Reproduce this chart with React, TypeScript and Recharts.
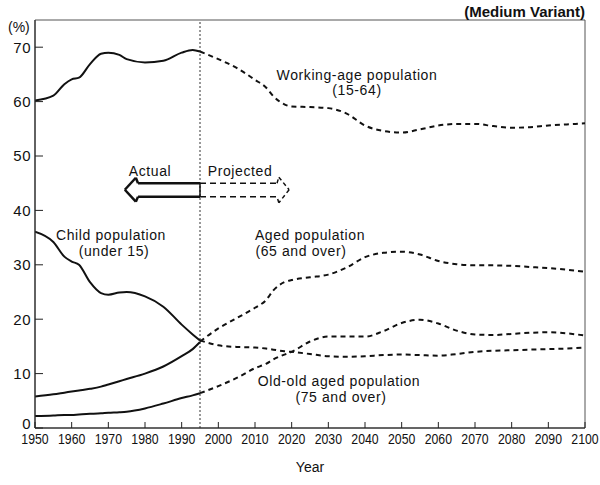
import React from "react";
import { LineChart, Line, XAxis, YAxis, ReferenceLine, ReferenceArea } from "recharts";

const actualYears = [1950, 1955, 1958, 1960, 1962, 1965, 1968, 1970, 1973, 1975, 1980, 1985, 1990, 1993, 1995];
const workingActual = [60.2, 61.1, 63.2, 64.1, 64.4, 66.9, 68.8, 69.0, 68.6, 67.8, 67.2, 67.5, 69.0, 69.5, 69.2];
const childActual = [36.1, 34.2, 31.5, 30.6, 30.0, 26.8, 24.8, 24.5, 24.9, 25.0, 24.2, 22.3, 19.0, 17.2, 16.1];
const agedActual = [5.8, 6.2, 6.5, 6.7, 6.9, 7.2, 7.6, 8.0, 8.6, 9.0, 10.0, 11.3, 13.2, 14.5, 15.8];
const oldOldActual = [2.2, 2.3, 2.4, 2.4, 2.5, 2.6, 2.7, 2.8, 2.9, 3.0, 3.6, 4.5, 5.5, 6.0, 6.4];

const projectedYears = [1995, 2000, 2005, 2010, 2013, 2015, 2018, 2020, 2025, 2030, 2035, 2040, 2045, 2050, 2055, 2060, 2065, 2070, 2075, 2080, 2085, 2090, 2095, 2100];
const workingProj = [69.2, 67.8, 66.2, 64.0, 62.6, 61.0, 59.5, 59.1, 59.0, 58.8, 57.8, 55.6, 54.6, 54.3, 54.9, 55.6, 55.9, 55.9, 55.5, 55.2, 55.3, 55.6, 55.8, 56.0];
const childProj = [16.1, 15.2, 14.9, 14.8, 14.6, 14.4, 14.1, 14.0, 13.6, 13.2, 13.1, 13.2, 13.4, 13.5, 13.4, 13.3, 13.6, 14.0, 14.2, 14.3, 14.4, 14.5, 14.6, 14.8];
const agedProj = [15.9, 18.3, 20.2, 22.1, 23.5, 25.3, 26.8, 27.2, 27.7, 28.2, 29.5, 31.4, 32.2, 32.4, 31.9, 30.7, 30.1, 29.9, 29.9, 29.8, 29.6, 29.4, 29.1, 28.7];
const oldOldProj = [6.4, 7.7, 9.2, 11.0, 11.8, 12.6, 13.5, 14.0, 15.9, 16.8, 16.8, 16.8, 17.8, 19.3, 19.9, 19.2, 17.9, 17.2, 17.1, 17.3, 17.5, 17.6, 17.4, 17.0];

const xTicks = [1950, 1960, 1970, 1980, 1990, 2000, 2010, 2020, 2030, 2040, 2050, 2060, 2070, 2080, 2090, 2100];
const yTicks = [0, 10, 20, 30, 40, 50, 60, 70];
const boundaryYear = 1995;

// arrow annotation (data coordinates)
const arrowLeft = [
  { x: 1978.1, y: 45.0 }, { x: 1977.5, y: 46.0 }, { x: 1974.5, y: 43.8 }, { x: 1977.5, y: 41.6 }, { x: 1978.1, y: 42.5 },
];
const arrowRight = [
  { x: 2016.0, y: 45.0 }, { x: 2016.5, y: 46.1 }, { x: 2019.3, y: 43.8 }, { x: 2016.5, y: 41.4 }, { x: 2016.0, y: 42.5 },
];

type Row = { year: number; [k: string]: number | null };
const rowMap = new Map<number, Row>();
const getRow = (y: number) => {
  if (!rowMap.has(y)) rowMap.set(y, { year: y });
  return rowMap.get(y)!;
};
actualYears.forEach((y, i) => {
  const r = getRow(y);
  r.workingA = workingActual[i];
  r.childA = childActual[i];
  r.agedA = agedActual[i];
  r.oldOldA = oldOldActual[i];
});
projectedYears.forEach((y, i) => {
  const r = getRow(y);
  r.workingP = workingProj[i];
  r.childP = childProj[i];
  r.agedP = agedProj[i];
  r.oldOldP = oldOldProj[i];
});
const data = Array.from(rowMap.values()).sort((a, b) => a.year - b.year);

const labelFont = "Arial, 'Liberation Sans', Helvetica, sans-serif";

const XTick = (props: any) => {
  const { x, y, payload } = props;
  return (
    <g>
      <line x1={x} y1={y} x2={x} y2={y - 6} stroke="#222" strokeWidth={1} />
      <text
        transform={`translate(${x},${y + 16}) scale(0.82,1)`}
        textAnchor="middle"
        fontFamily={labelFont}
        fontSize={15}
        fill="#111"
      >
        {payload.value}
      </text>
    </g>
  );
};

const YTick = (props: any) => {
  const { x, y, payload } = props;
  const shift = payload.value === 0 ? -4 : 0;
  return (
    <g>
      <line x1={x} y1={y} x2={x + 8} y2={y} stroke="#222" strokeWidth={1} />
      <text x={x - 4} y={y + shift} dy="0.36em" textAnchor="end" fontFamily={labelFont} fontSize={15} letterSpacing={0.5} fill="#111">
        {payload.value}
      </text>
    </g>
  );
};

const seg = (pts: { x: number; y: number }[]) =>
  pts.slice(0, -1).map((p, i) => [p, pts[i + 1]] as [{ x: number; y: number }, { x: number; y: number }]);

const SOLID = "#111";
const DASH = "5 4";

export default function App() {
  const textStyle = { fontFamily: labelFont, fontSize: 14, letterSpacing: 0.6, fill: "#111" } as const;
  return (
    <div style={{ position: "absolute", left: 0, top: 0, width: 600, height: 485, background: "#fff" }}>
      <LineChart width={600} height={485} data={data} margin={{ top: 20, right: 15, left: 0, bottom: 27 }}>
        <ReferenceArea x1={1950} x2={2100} y1={0} y2={75} fill="none" stroke="#555" strokeWidth={1} ifOverflow="visible" />
        <XAxis
          dataKey="year"
          type="number"
          domain={[1950, 2100]}
          ticks={xTicks}
          interval={0}
          height={30}
          tickSize={0}
          tickMargin={0}
          tickLine={false}
          tick={<XTick />}
          axisLine={{ stroke: "#222", strokeWidth: 1.2 }}
          allowDataOverflow
        />
        <YAxis
          type="number"
          domain={[0, 75]}
          ticks={yTicks}
          interval={0}
          width={35}
          tickSize={0}
          tickMargin={0}
          tickLine={false}
          tick={<YTick />}
          axisLine={{ stroke: "#333", strokeWidth: 1.2 }}
          allowDataOverflow
        />
        <ReferenceLine x={boundaryYear} stroke="#333" strokeWidth={1} strokeDasharray="2 2" />

        {/* arrow annotation */}
        <ReferenceLine segment={[{ x: 1978.1, y: 45.0 }, { x: boundaryYear, y: 45.0 }]} stroke={SOLID} strokeWidth={2.5} />
        <ReferenceLine segment={[{ x: 1978.1, y: 42.5 }, { x: boundaryYear, y: 42.5 }]} stroke={SOLID} strokeWidth={2.5} />
        <ReferenceLine segment={[{ x: boundaryYear, y: 45.0 }, { x: boundaryYear, y: 42.5 }]} stroke={SOLID} strokeWidth={1.5} />
        {seg(arrowLeft).map((s, i) => (
          <ReferenceLine key={"al" + i} segment={s} stroke={SOLID} strokeWidth={2.5} />
        ))}
        <ReferenceLine segment={[{ x: boundaryYear, y: 45.0 }, { x: 2016.0, y: 45.0 }]} stroke={SOLID} strokeWidth={1.5} strokeDasharray="6 4" />
        <ReferenceLine segment={[{ x: boundaryYear, y: 42.5 }, { x: 2016.0, y: 42.5 }]} stroke={SOLID} strokeWidth={1.5} strokeDasharray="6 4" />
        {seg(arrowRight).map((s, i) => (
          <ReferenceLine key={"ar" + i} segment={s} stroke={SOLID} strokeWidth={1.5} strokeDasharray="4 3" />
        ))}

        <Line dataKey="workingA" type="monotone" stroke={SOLID} strokeWidth={2} dot={false} isAnimationActive={false} />
        <Line dataKey="childA" type="monotone" stroke={SOLID} strokeWidth={2} dot={false} isAnimationActive={false} />
        <Line dataKey="agedA" type="monotone" stroke={SOLID} strokeWidth={2} dot={false} isAnimationActive={false} />
        <Line dataKey="oldOldA" type="monotone" stroke={SOLID} strokeWidth={2} dot={false} isAnimationActive={false} />
        <Line dataKey="workingP" type="monotone" stroke={SOLID} strokeWidth={2} strokeDasharray={DASH} dot={false} isAnimationActive={false} />
        <Line dataKey="childP" type="monotone" stroke={SOLID} strokeWidth={2} strokeDasharray={DASH} dot={false} isAnimationActive={false} />
        <Line dataKey="agedP" type="monotone" stroke={SOLID} strokeWidth={2} strokeDasharray={DASH} dot={false} isAnimationActive={false} />
        <Line dataKey="oldOldP" type="monotone" stroke={SOLID} strokeWidth={2} strokeDasharray={DASH} dot={false} isAnimationActive={false} />
      </LineChart>
      <svg width={600} height={485} style={{ position: "absolute", left: 0, top: 0, pointerEvents: "none" }}>
        <text x={585} y={17} textAnchor="end" fontFamily={labelFont} fontSize={15} fontWeight="bold" fill="#111">(Medium Variant)</text>
        <text x={8} y={32} fontFamily={labelFont} fontSize={14} fill="#111">(%)</text>
        <text x={357} y={80} textAnchor="middle" {...textStyle}>Working-age population</text>
        <text x={357} y={95} textAnchor="middle" {...textStyle}>(15-64)</text>
        <text x={150} y={176} textAnchor="middle" {...textStyle}>Actual</text>
        <text x={240} y={176} textAnchor="middle" {...textStyle}>Projected</text>
        <text x={111} y={240} textAnchor="middle" {...textStyle}>Child population</text>
        <text x={114} y={256} textAnchor="middle" {...textStyle}>(under 15)</text>
        <text x={310} y={240} textAnchor="middle" {...textStyle}>Aged population</text>
        <text x={301} y={256} textAnchor="middle" {...textStyle}>(65 and over)</text>
        <text x={339} y={386} textAnchor="middle" {...textStyle}>Old-old aged population</text>
        <text x={341} y={402} textAnchor="middle" {...textStyle}>(75 and over)</text>
        <text x={310} y={472} textAnchor="middle" fontFamily={labelFont} fontSize={14} fill="#111">Year</text>
      </svg>
    </div>
  );
}
